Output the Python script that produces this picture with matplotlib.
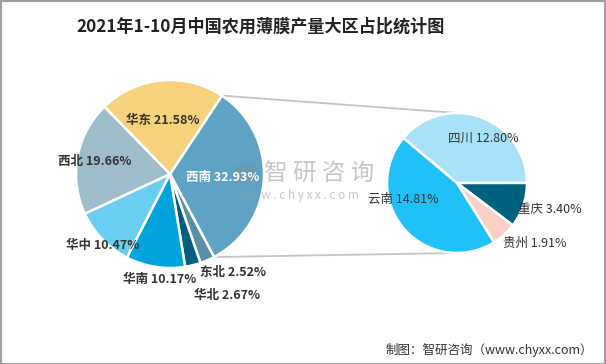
import matplotlib
matplotlib.use("Agg")
import matplotlib.pyplot as plt
from matplotlib.patches import Rectangle
import numpy as np

plt.rcParams["font.family"] = ["Noto Sans CJK SC", "DejaVu Sans"]

# main pie (regions)
regions = ["西南", "东北", "华北", "华南", "华中", "西北", "华东"]
region_share = [32.93, 2.52, 2.67, 10.17, 10.47, 19.66, 21.58]
region_colors = ["#5fa3c4", "#5a8ea3", "#005f80", "#00a3db", "#6acdf2", "#9fbccb", "#f6d27c"]

# second pie (西南 split by province)
provinces = ["四川", "重庆", "贵州", "云南"]
province_share = [12.80, 3.40, 1.91, 14.81]
province_colors = ["#a8e1f8", "#00607f", "#f8d0c8", "#1fc1f8"]

W, H = 606, 364
fig = plt.figure(figsize=(W / 100, H / 100), dpi=100)
ax = fig.add_axes([0, 0, 1, 1])

# pixel -> data (y flipped)
def px(x, y):
    return x, H - y

c1, r1 = px(170, 174), 94
c2, r2 = px(457, 183), 70

w1, _ = ax.pie(region_share, colors=region_colors, startangle=56.5, counterclock=False,
               center=c1, radius=r1, frame=True,
               wedgeprops=dict(edgecolor="white", linewidth=1.8))
w2, _ = ax.pie(province_share, colors=province_colors, startangle=140, counterclock=False,
               center=c2, radius=r2, frame=True,
               wedgeprops=dict(edgecolor="white", linewidth=1.8))
ax.set_xlim(0, W)
ax.set_ylim(0, H)
ax.set_aspect("equal")
ax.axis("off")

# connector lines from the 西南 wedge to the second pie
sw = w1[0]
for ang, tgt in [(sw.theta2, 90), (sw.theta1, -90)]:
    a = np.deg2rad(ang)
    b = np.deg2rad(tgt)
    x0, y0 = c1[0] + r1 * np.cos(a), c1[1] + r1 * np.sin(a)
    x1, y1 = c2[0] + r2 * np.cos(b), c2[1] + r2 * np.sin(b)
    ax.plot([x0, x1], [y0, y1], color="#c4c4c4", lw=1.3, zorder=0)

# labels (pixel positions, ha)
left_pos = [(223, 177, "center"), (233, 272, "center"), (227, 295, "center"),
            (160, 280, "center"), (103, 245, "center"), (95, 162, "center"),
            (163, 120, "center")]
for name, v, (x, y, ha) in zip(regions, region_share, left_pos):
    col = "white" if name == "西南" else "#333333"
    ax.text(*px(x, y), f"{name} {v:.2f}%", ha=ha, va="center", fontsize=9,
            color=col, fontweight="bold", zorder=6)

right_pos = [(483, 138, "center"), (518, 210, "left"), (503, 243, "left"),
             (403, 199, "center")]
for name, v, (x, y, ha) in zip(provinces, province_share, right_pos):
    ax.text(*px(x, y), f"{name} {v:.2f}%", ha=ha, va="center", fontsize=9,
            color="#333333", zorder=6)

# watermark
ax.add_patch(Rectangle(px(234, 183), 22, 18, fc="#8a8a8a", ec="none", alpha=0.3, zorder=5))
ax.text(*px(319, 174), "智 研 咨 询", ha="center", va="center", fontsize=17,
        color="#9a9a9a", alpha=0.55, zorder=5)
ax.text(*px(298, 196), "w w w . c h y x x . c o m", ha="center", va="center",
        fontsize=8.5, color="#9a9a9a", alpha=0.55, zorder=5)

# title and source
ax.text(*px(261, 27), "2021年1-10月中国农用薄膜产量大区占比统计图", ha="center",
        va="center", fontsize=12.3, fontweight="bold", color="#222222")
ax.text(*px(593, 350), "制图：智研咨询（www.chyxx.com）", ha="right", va="center",
        fontsize=9, color="#333333")

ax.add_patch(Rectangle((0.5, 0.5), W - 1.5, H - 1.5, fill=False, ec="#a0a0a0", lw=1.5))

fig.savefig("out.png", dpi=100)
